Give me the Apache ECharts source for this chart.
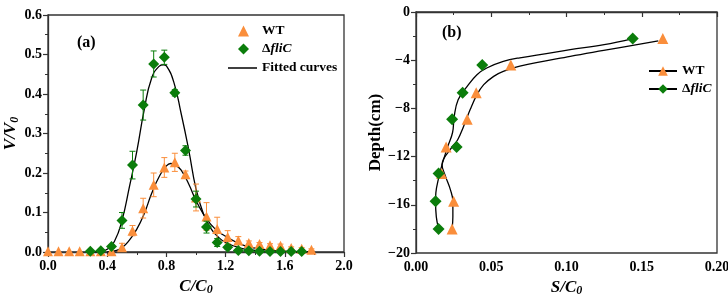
<!DOCTYPE html>
<html>
<head>
<meta charset="utf-8">
<script src="https://cdn.jsdelivr.net/npm/echarts@6/dist/echarts.min.js"></script>
<style>
	html, body { margin: 0; padding: 0; background: #fff; }
	#chart { width: 728px; height: 298px; }
</style>
</head>
<body>
<div id="chart"></div>
<script>
// panel (a): breakthrough data
const wtX = [0, 0.071, 0.143, 0.214, 0.286, 0.357, 0.429, 0.5, 0.571, 0.643, 0.714, 0.786, 0.857, 0.929, 1.0, 1.071, 1.143, 1.214, 1.286, 1.357, 1.429, 1.5, 1.571, 1.643, 1.714, 1.78]
const wtY = [0.002, 0.002, 0.002, 0.002, 0.002, 0.002, 0.002, 0.012, 0.054, 0.111, 0.17, 0.214, 0.227, 0.197, 0.138, 0.09, 0.058, 0.038, 0.029, 0.023, 0.02, 0.017, 0.016, 0.01, 0.008, 0.006]
const wtErr = [0, 0, 0, 0, 0, 0, 0, 0.01, 0.013, 0.025, 0.03, 0.025, 0.023, 0.008, 0.034, 0.035, 0.03, 0.016, 0.01, 0.005, 0.004, 0.004, 0.004, 0.003, 0.003, 0.002]

const fliX = [0.286, 0.357, 0.429, 0.5, 0.571, 0.643, 0.714, 0.786, 0.857, 0.929, 1.0, 1.071, 1.143, 1.214, 1.286, 1.357, 1.429, 1.5, 1.571, 1.643, 1.714]
const fliY = [0.002, 0.003, 0.014, 0.08, 0.22, 0.372, 0.476, 0.493, 0.403, 0.257, 0.134, 0.063, 0.024, 0.012, 0.004, 0.003, 0.002, 0.001, 0.001, 0.001, 0.001]
const fliErr = [0, 0, 0.004, 0.02, 0.035, 0.038, 0.033, 0.018, 0.008, 0.012, 0.02, 0.015, 0.01, 0.005, 0.003, 0.002, 0.002, 0, 0, 0, 0]

// fitted curves
const wtFitX = [0.4, 0.45, 0.5, 0.55, 0.6, 0.65, 0.7, 0.75, 0.8, 0.83, 0.87, 0.9, 0.95, 1.0, 1.05, 1.1, 1.15, 1.2, 1.3, 1.4, 1.5, 1.6, 1.7, 1.8]
const wtFitY = [0, 0.003, 0.011, 0.03, 0.058, 0.097, 0.148, 0.19, 0.218, 0.224, 0.218, 0.207, 0.173, 0.13, 0.096, 0.07, 0.052, 0.04, 0.02, 0.01, 0.005, 0.002, 0.001, 0]
const fliFitX = [0.3, 0.35, 0.4, 0.45, 0.5, 0.55, 0.6, 0.65, 0.7, 0.75, 0.78, 0.8, 0.85, 0.9, 0.95, 1.0, 1.05, 1.1, 1.15, 1.2, 1.3, 1.4, 1.5, 1.6, 1.7]
const fliFitY = [0, 0.001, 0.007, 0.028, 0.08, 0.165, 0.255, 0.36, 0.44, 0.47, 0.474, 0.471, 0.43, 0.35, 0.26, 0.16, 0.097, 0.06, 0.038, 0.024, 0.01, 0.004, 0.002, 0.001, 0]

// panel (b): retention profile
const depth = [-2.2, -4.4, -6.7, -8.9, -11.2, -13.4, -15.7, -18.0]
const wtS = [0.164, 0.063, 0.040, 0.034, 0.020, 0.017, 0.025, 0.024]
const fliS = [0.144, 0.044, 0.031, 0.024, 0.027, 0.015, 0.013, 0.015]

const wtFitS = [0.161, 0.1247, 0.1025, 0.069, 0.058, 0.0516, 0.045, 0.0405, 0.036, 0.0316, 0.0277, 0.024, 0.0173, 0.0195, 0.023, 0.0245, 0.0245, 0.024]
const wtFitD = [-2.4, -3.19, -3.68, -4.5, -4.93, -5.34, -6.03, -6.86, -8.1, -9.5, -10.6, -11.2, -12.67, -13.6, -14.8, -15.7, -17, -18.0]
const fliFitS = [0.144, 0.125, 0.1025, 0.069, 0.058, 0.047, 0.0405, 0.034, 0.028, 0.0254, 0.0243, 0.021, 0.0173, 0.015, 0.0132, 0.013, 0.0135, 0.015]
const fliFitD = [-2.2, -2.71, -3.13, -3.8, -4.1, -4.65, -5.2, -6.17, -7.28, -8.66, -10.0, -11.2, -12.67, -13.8, -15, -15.7, -17, -18.0]

const ORANGE = '#FA8E3B'
const GREEN = '#0B7D0B'
const FONT = 'Liberation Serif'

const zip = (a, b) => a.map((v, i) => [v, b[i]])
const zip3 = (a, b, c) => a.map((v, i) => [v, b[i], c[i]])

const errorBars = (color) => (params, api) => {
	const x = api.value(0)
	const y = api.value(1)
	const e = api.value(2)
	if (!e) return
	const top = api.coord([x, y + e])
	const bot = api.coord([x, y - e])
	const w = 3
	const style = { stroke: color, lineWidth: 1 }
	return {
		type: 'group',
		children: [
			{ type: 'line', shape: { x1: top[0], y1: top[1], x2: bot[0], y2: bot[1] }, style },
			{ type: 'line', shape: { x1: top[0] - w, y1: top[1], x2: top[0] + w, y2: top[1] }, style },
			{ type: 'line', shape: { x1: bot[0] - w, y1: bot[1], x2: bot[0] + w, y2: bot[1] }, style },
		],
	}
}

const tickLabel = { fontFamily: FONT, fontWeight: 'bold', fontSize: 14, color: '#000' }
const axisLine = { lineStyle: { color: '#333', width: 1.3 } }
const axisTick = { inside: false, length: 5, lineStyle: { color: '#333', width: 1.2 } }
const minorTick = { show: true, splitNumber: 2, length: 3, lineStyle: { color: '#333', width: 1 } }
const nameRich = {
	a: { fontFamily: FONT, fontWeight: 'bold', fontStyle: 'italic', fontSize: 17, color: '#000' },
	s: { fontFamily: FONT, fontWeight: 'bold', fontStyle: 'italic', fontSize: 12, color: '#000', verticalAlign: 'bottom', padding: [8, 0, 0, 0] },
	b: { fontFamily: FONT, fontWeight: 'bold', fontSize: 17, color: '#000' },
}
const richFor = (pad) => ({
	n: { fontFamily: FONT, fontWeight: 'bold', fontSize: 13.5, color: '#000', padding: [0, 0, 0, pad] },
	i: { fontFamily: FONT, fontWeight: 'bold', fontStyle: 'italic', fontSize: 13.5, color: '#000' },
})
const legendFormatter = (name) => {
	if (name.trim() === 'ΔfliC') return '{n|Δ}{i|fliC}'
	return '{n|' + name.trim() + '}'
}

const chart = echarts.init(document.getElementById('chart'))

const option = {
	animation: false,
	backgroundColor: '#fff',
	grid: [
		{ left: 48, top: 15, width: 296, height: 237, outerBoundsMode: 'none', containLabel: false, show: true, borderColor: '#333', borderWidth: 1.3 },
		{ left: 416, top: 12, width: 301, height: 241, outerBoundsMode: 'none', containLabel: false, show: true, borderColor: '#333', borderWidth: 1.3 },
	],
	xAxis: [
		{
			gridIndex: 0, type: 'value', min: 0, max: 2, interval: 0.4,
			name: '{a|C/C}{s|0}', nameLocation: 'middle', nameGap: 24, nameTextStyle: { rich: nameRich },
			axisLine, axisTick, minorTick, splitLine: { show: false },
			axisLabel: { ...tickLabel, margin: 7, formatter: (v) => v.toFixed(1) },
		},
		{
			gridIndex: 1, type: 'value', min: 0, max: 0.2, interval: 0.05,
			name: '{a|S/C}{s|0}', nameLocation: 'middle', nameGap: 24, nameTextStyle: { rich: nameRich },
			axisLine, axisTick, minorTick, splitLine: { show: false },
			axisLabel: { ...tickLabel, margin: 7, formatter: (v) => v.toFixed(2) },
		},
	],
	yAxis: [
		{
			gridIndex: 0, type: 'value', min: 0, max: 0.6, interval: 0.1,
			name: '{a|V/V}{s|0}', nameLocation: 'middle', nameGap: 20, nameTextStyle: { rich: nameRich },
			axisLine, axisTick, minorTick, splitLine: { show: false },
			axisLabel: { ...tickLabel, margin: 6, formatter: (v) => v.toFixed(1) },
		},
		{
			gridIndex: 1, type: 'value', min: -20, max: 0, interval: 4,
			name: '{b|Depth(cm)}', nameLocation: 'middle', nameGap: 32, nameTextStyle: { rich: nameRich },
			axisLine, axisTick, minorTick, splitLine: { show: false },
			axisLabel: { ...tickLabel, margin: 6, formatter: (v) => String(v).replace('-', '\u2212') },
		},
	],
	legend: [
		{
			left: 238, top: 24, padding: 0, orient: 'vertical', itemWidth: 11, itemHeight: 11, itemGap: 4,
			data: ['WT', 'ΔfliC'],
			formatter: legendFormatter, textStyle: { rich: richFor(8) },
			selectedMode: false,
		},
		{
			left: 228, top: 61, padding: 0, orient: 'vertical', itemWidth: 29, itemHeight: 1.5,
			data: [{ name: 'Fitted curves', icon: 'rect' }],
			formatter: legendFormatter, textStyle: { rich: richFor(0) },
			selectedMode: false,
		},
		{
			left: 648, top: 64, padding: 0, orient: 'vertical', itemWidth: 28, itemHeight: 12, itemGap: 4,
			data: ['WT ', 'ΔfliC '],
			formatter: legendFormatter, textStyle: { rich: richFor(0) },
			selectedMode: false,
		},
	],
	graphic: [
		{ type: 'text', left: 77, top: 35, style: { text: '(a)', font: 'bold 16px "Liberation Serif"', fill: '#000' } },
		{ type: 'text', left: 442, top: 25, style: { text: '(b)', font: 'bold 16px "Liberation Serif"', fill: '#000' } },
	],
	series: [
		// panel (a)
		{
			name: 'Fitted curves', type: 'line', xAxisIndex: 0, yAxisIndex: 0, smooth: true,
			symbol: 'none', lineStyle: { color: '#000', width: 1.3 }, itemStyle: { color: '#000' },
			data: zip(wtFitX, wtFitY), z: 2,
		},
		{
			name: 'Fitted curves', type: 'line', xAxisIndex: 0, yAxisIndex: 0, smooth: true,
			symbol: 'none', lineStyle: { color: '#000', width: 1.3 }, itemStyle: { color: '#000' },
			data: zip(fliFitX, fliFitY), z: 2,
		},
		{
			type: 'custom', xAxisIndex: 0, yAxisIndex: 0, renderItem: errorBars(ORANGE),
			data: zip3(wtX, wtY, wtErr), z: 3, silent: true,
		},
		{
			name: 'WT', type: 'scatter', xAxisIndex: 0, yAxisIndex: 0, symbol: 'triangle', symbolSize: 10,
			itemStyle: { color: ORANGE, opacity: 1 }, data: zip(wtX, wtY), z: 4,
		},
		{
			type: 'custom', xAxisIndex: 0, yAxisIndex: 0, renderItem: errorBars(GREEN),
			data: zip3(fliX, fliY, fliErr), z: 5, silent: true,
		},
		{
			name: 'ΔfliC', type: 'scatter', xAxisIndex: 0, yAxisIndex: 0, symbol: 'diamond', symbolSize: 11,
			itemStyle: { color: GREEN, opacity: 1 }, data: zip(fliX, fliY), z: 6,
		},
		// panel (b)
		{
			name: 'WT ', type: 'line', xAxisIndex: 1, yAxisIndex: 1, smooth: 0.4,
			symbol: 'triangle', showSymbol: false, itemStyle: { color: ORANGE },
			lineStyle: { color: '#000', width: 1.3 }, data: zip(wtFitS, wtFitD), z: 2,
		},
		{
			name: 'ΔfliC ', type: 'line', xAxisIndex: 1, yAxisIndex: 1, smooth: 0.4,
			symbol: 'diamond', showSymbol: false, itemStyle: { color: GREEN },
			lineStyle: { color: '#000', width: 1.3 }, data: zip(fliFitS, fliFitD), z: 2,
		},
		{
			name: 'WT ', type: 'scatter', xAxisIndex: 1, yAxisIndex: 1, symbol: 'triangle', symbolSize: 11,
			itemStyle: { color: ORANGE, opacity: 1 }, data: zip(wtS, depth), z: 4,
		},
		{
			name: 'ΔfliC ', type: 'scatter', xAxisIndex: 1, yAxisIndex: 1, symbol: 'diamond', symbolSize: 12,
			itemStyle: { color: GREEN, opacity: 1 }, data: zip(fliS, depth), z: 5,
		},
	],
}

chart.setOption(option)
</script>
</body>
</html>
